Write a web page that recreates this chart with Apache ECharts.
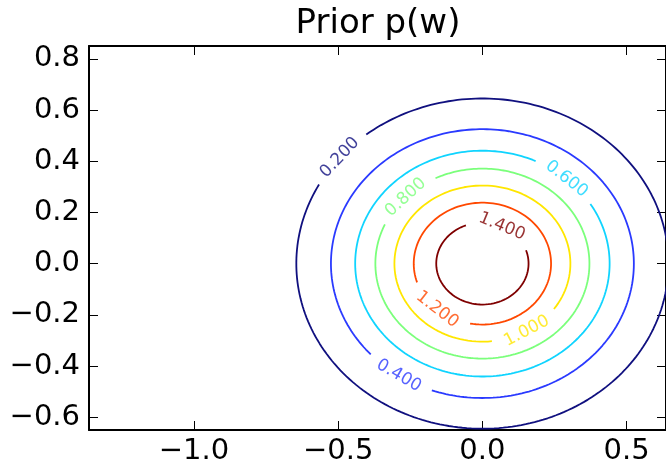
<!DOCTYPE html>
<html>
<head>
<meta charset="utf-8">
<script src="https://cdn.jsdelivr.net/npm/echarts@6/dist/echarts.min.js"></script>
<style>
html,body{margin:0;padding:0;background:#fff;}
#chart{width:666px;height:466px;}
</style>
</head>
<body>
<div id="chart"></div>
<script>
// Contour levels and their radii (in data units)
const levels = [0.2, 0.4, 0.6, 0.8, 1.0, 1.2, 1.4];
const levelLabels = ['0.200', '0.400', '0.600', '0.800', '1.000', '1.200', '1.400'];
const radii = [0.645, 0.525, 0.441, 0.371, 0.305, 0.238, 0.160];
// angle (degrees) along each contour where its inline label sits
const labelAngles = [140, 236.5, 48.6, 135.8, 300.3, 228.8, 65];
const levelColors = ['#10107f', '#2a3aff', '#10d4ff', '#7bff7b', '#ffe600', '#ff4800', '#7f0000'];
const xTicks = [-1.0, -0.5, 0.0, 0.5];
const yTicks = [-0.6, -0.4, -0.2, 0.0, 0.2, 0.4, 0.6, 0.8];
const xRange = [-1.3636, 0.6364];
const yRange = [-0.65, 0.85];

const FONT = '"DejaVu Sans", "Liberation Sans", sans-serif';
const gridL = 89, gridT = 46, gridW = 578, gridH = 385;
const sx = gridW / (xRange[1] - xRange[0]);
const sy = gridH / (yRange[1] - yRange[0]);
const gapPx = 70;

function fmt(v) {
  return v.toFixed(1).replace('-', '\u2212');
}

const series = [];
const labelData = [];
levels.forEach(function (lv, i) {
  const r = radii[i];
  const rpx = r * (sx + sy) / 2;
  const half = (gapPx / 2) / rpx * 180 / Math.PI;
  const c = labelAngles[i];
  const start = c + half, end = c - half + 360;
  const pts = [];
  const n = 240;
  for (let k = 0; k <= n; k++) {
    const a = (start + (end - start) * k / n) * Math.PI / 180;
    pts.push([r * Math.cos(a), r * Math.sin(a)]);
  }
  series.push({
    type: 'line',
    name: levelLabels[i],
    data: pts,
    showSymbol: false,
    smooth: false,
    silent: true,
    lineStyle: { color: levelColors[i], width: 1.8 },
    z: 2
  });
  const ca = c * Math.PI / 180;
  // tangent direction in screen space (y up)
  let rot = Math.atan2(r * sy * Math.cos(ca), -r * sx * Math.sin(ca)) * 180 / Math.PI;
  if (rot > 90) rot -= 180;
  if (rot < -90) rot += 180;
  labelData.push({
    value: [r * Math.cos(ca), r * Math.sin(ca)],
    label: {
      show: true,
      formatter: levelLabels[i],
      rotate: rot,
      color: levelColors[i]
    }
  });
});

series.push({
  type: 'scatter',
  data: labelData,
  symbolSize: 0,
  silent: true,
  label: {
    show: true,
    position: 'inside',
    align: 'center',
    verticalAlign: 'middle',
    fontSize: 17,
    fontFamily: FONT
  },
  z: 3
});

function xAxisCfg(pos, showLabel) {
  return {
    type: 'value',
    position: pos,
    min: xRange[0],
    max: xRange[1],
    splitLine: { show: false },
    axisLine: { show: true, onZero: false, lineStyle: { color: '#000', width: 2 } },
    axisTick: { show: true, inside: true, length: 9, customValues: xTicks, lineStyle: { color: '#000', width: 1 } },
    axisLabel: {
      show: showLabel,
      customValues: xTicks,
      formatter: fmt,
      fontSize: 29,
      fontFamily: FONT,
      color: '#000',
      margin: 7
    }
  };
}
function yAxisCfg(pos, showLabel) {
  return {
    type: 'value',
    position: pos,
    min: yRange[0],
    max: yRange[1],
    splitLine: { show: false },
    axisLine: { show: true, onZero: false, lineStyle: { color: '#000', width: 2 } },
    axisTick: { show: true, inside: true, length: 9, customValues: yTicks, lineStyle: { color: '#000', width: 1 } },
    axisLabel: {
      show: showLabel,
      customValues: yTicks,
      formatter: fmt,
      fontSize: 29,
      fontFamily: FONT,
      color: '#000',
      margin: 9
    }
  };
}

const chart = echarts.init(document.getElementById('chart'), null, { renderer: 'canvas' });
chart.setOption({
  animation: false,
  backgroundColor: '#fff',
  grid: { left: gridL, top: gridT, width: gridW, height: gridH, containLabel: false },
  xAxis: [xAxisCfg('bottom', true), xAxisCfg('top', false)],
  yAxis: [yAxisCfg('left', true), yAxisCfg('right', false)],
  graphic: [{
    type: 'text',
    x: gridL + gridW / 2,
    y: 24,
    style: {
      text: 'Prior p(w)',
      fontSize: 34,
      fontFamily: FONT,
      fill: '#000',
      align: 'center',
      verticalAlign: 'middle'
    }
  }],
  series: series
});
</script>
</body>
</html>
